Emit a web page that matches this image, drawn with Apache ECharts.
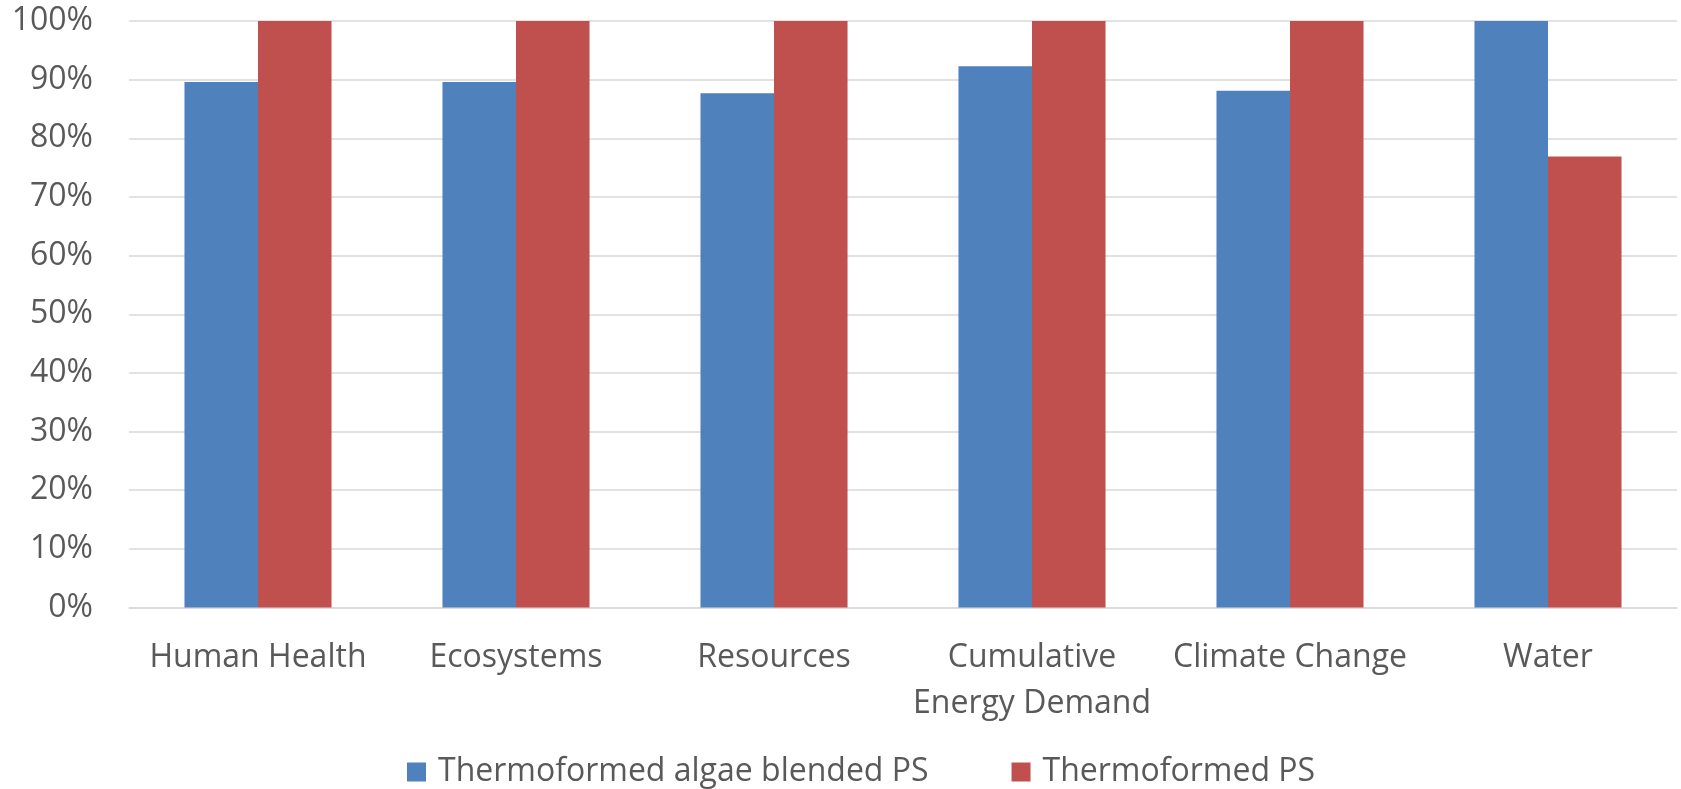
<!DOCTYPE html>
<html><head><meta charset="utf-8">
<script src="https://cdn.jsdelivr.net/npm/echarts@6/dist/echarts.min.js"></script>
<style>html,body{margin:0;padding:0;background:#fff}#c{width:1681px;height:789px}</style>
</head><body><div id="c"></div>
<script>
const categories = ["Human Health", "Ecosystems", "Resources", "Cumulative Energy Demand", "Climate Change", "Water"];
const algaeBlendedPS = [89.6, 89.6, 87.7, 92.3, 88.1, 100];
const thermoformedPS = [100, 100, 100, 100, 100, 76.9];
const seriesNames = ["Thermoformed algae blended PS", "Thermoformed PS"];
const yTicks = {min: 0, max: 100, interval: 10};

const font = "'Open Sans', 'Noto Sans', sans-serif";
const chart = echarts.init(document.getElementById('c'));
chart.setOption({
  animation: false,
  grid: {left: 129, right: 4, top: 21, bottom: 181.5, containLabel: false},
  legend: {
    bottom: -4, left: 402, itemWidth: 19, itemHeight: 19, itemGap: 83,
    icon: 'rect',
    textStyle: {fontFamily: font, fontSize: 32, color: '#595959', padding: [0, 0, 0, 7]},
    data: seriesNames
  },
  xAxis: {
    type: 'category', data: categories,
    axisLine: {show: true, lineStyle: {color: '#d9d9d9', width: 1.5}},
    axisTick: {show: false},
    axisLabel: {
      interval: 0, margin: 27, fontFamily: font, fontSize: 32, color: '#595959', lineHeight: 46,
      formatter: v => v === "Cumulative Energy Demand" ? "Cumulative\nEnergy Demand" : v
    }
  },
  yAxis: {
    type: 'value', min: yTicks.min, max: yTicks.max, interval: yTicks.interval,
    axisLine: {show: false}, axisTick: {show: false},
    splitLine: {lineStyle: {color: '#d9d9d9', width: 1.5}},
    axisLabel: {margin: 36, fontFamily: font, fontSize: 32, color: '#595959', formatter: v => v + '%'}
  },
  series: [
    {name: seriesNames[0], type: 'bar', data: algaeBlendedPS, barGap: '0%', barCategoryGap: '43%',
     itemStyle: {color: '#4f81bd'}},
    {name: seriesNames[1], type: 'bar', data: thermoformedPS, barGap: '0%', barCategoryGap: '43%',
     itemStyle: {color: '#c0504d'}}
  ]
});
</script></body></html>
